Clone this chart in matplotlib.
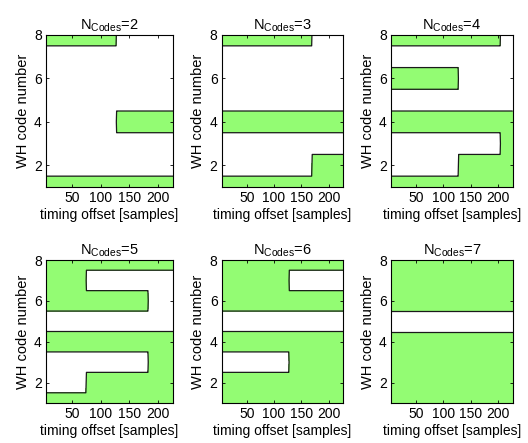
import numpy as np
import matplotlib
matplotlib.use("Agg")
import matplotlib.pyplot as plt

plt.rcParams["font.family"] = ["Liberation Sans", "DejaVu Sans"]
plt.rcParams["mathtext.fontset"] = "custom"
plt.rcParams["mathtext.rm"] = "Liberation Sans"
plt.rcParams["mathtext.default"] = "regular"

GREEN = "#93fc73"
EDGE = "#1a1a1a"

# timing offsets and WH code numbers
offsets = np.arange(4, 228)
codes = np.arange(1, 9)

n_codes = [2, 3, 4, 5, 6, 7]

# active (green) offset range per code 1..8, None = never active
act_n2 = [(4, 227), None, None, (128, 227), None, None, None, (4, 127)]
act_n3 = [(4, 227), (170, 227), None, (4, 227), None, None, None, (4, 169)]
act_n4 = [(4, 227), (128, 227), (205, 227), (4, 227), None, (4, 127), None, (4, 204)]
act_n5 = [(4, 227), (75, 227), (184, 227), (4, 227), None, (4, 183), (4, 74), (4, 227)]
act_n6 = [(4, 227), (4, 227), (128, 227), (4, 227), None, (4, 227), (4, 127), (4, 227)]
act_n7 = [(4, 227), (4, 227), (4, 227), (4, 227), None, (4, 227), (4, 227), (4, 227)]

activity = [act_n2, act_n3, act_n4, act_n5, act_n6, act_n7]

# axes boxes in pixels (left, top, width, height) of a 528x443 figure
W, H = 528, 443
boxes = [
    (46, 35, 127, 152), (221.7, 35, 121.6, 152), (391, 35, 121.7, 152),
    (46, 260, 127, 143), (221.7, 260, 121.6, 143), (391, 260, 121.7, 143),
]

fig = plt.figure(figsize=(W / 100, H / 100), dpi=100)

for nc, act, (l, t, w, h) in zip(n_codes, activity, boxes):
    ax = fig.add_axes([l / W, 1 - (t + h) / H, w / W, h / H])
    Z = np.zeros((len(codes), len(offsets)))
    for i, rng in enumerate(act):
        if rng is not None:
            Z[i, (offsets >= rng[0]) & (offsets <= rng[1])] = 1
    ax.contourf(offsets, codes, Z, levels=[-0.5, 0.5, 1.5], colors=["white", GREEN])
    ax.contour(offsets, codes, Z, levels=[0.5], colors=EDGE, linewidths=0.9)
    ax.set_xlim(offsets[0], offsets[-1])
    ax.set_ylim(1, 8)
    ax.set_xticks([50, 100, 150, 200])
    ax.set_yticks([2, 4, 6, 8])
    ax.tick_params(direction="in", top=True, right=True, length=2.5, width=0.6,
                   labelsize=10, pad=3)
    for s in ax.spines.values():
        s.set_linewidth(0.8)
    ax.set_xlabel("timing offset [samples]", fontsize=10, labelpad=2)
    ax.set_ylabel("WH code number", fontsize=10.5, labelpad=3)
    ax.set_title(r"N$_{\rm Codes}$=%d" % nc, fontsize=10.5, pad=4)

fig.savefig("out.png", dpi=100, facecolor="white")
